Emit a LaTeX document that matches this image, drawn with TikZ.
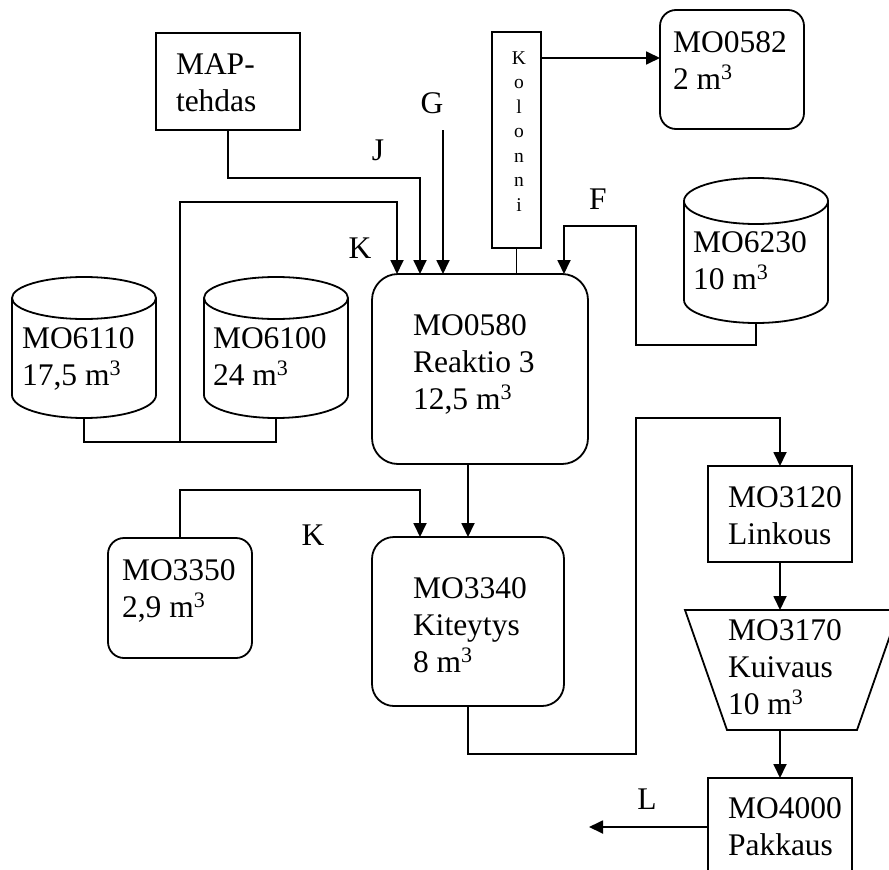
\documentclass[tikz,border=0pt]{standalone}
\usepackage{fontspec}
\setmainfont{Liberation Serif}
\usetikzlibrary{arrows.meta}
\newcommand\txtlines[1]{\vtop{\baselineskip=37pt\halign{##\hfil\cr#1\crcr}}}
\newcommand\vstack[1]{\vtop{\baselineskip=24.5pt\halign{\hfil##\hfil\cr#1\crcr}}}
% cylinder outline: left, right, top, bottom, top y-radius, bottom y-radius
\newcommand\drawcyl[6]{%
  \pgfmathsetmacro\cylcx{(#1+#2)/2}%
  \pgfmathsetmacro\cylrx{(#2-#1)/2}%
  \pgfmathsetmacro\cylyt{#3+#5}%
  \pgfmathsetmacro\cylyb{#4-#6}%
  \draw[lw] (\cylcx,\cylyt) ellipse [x radius=\cylrx, y radius=#5];
  \draw[lw] (#1,\cylyt) -- (#1,\cylyb)
    .. controls (#1,{\cylyb+0.5523*#6}) and ({\cylcx-0.5523*\cylrx},#4) .. (\cylcx,#4)
    .. controls ({\cylcx+0.5523*\cylrx},#4) and (#2,{\cylyb+0.5523*#6}) .. (#2,\cylyb)
    -- (#2,\cylyt);
}
\begin{document}
\begin{tikzpicture}[x=1pt,y=-1pt,
  every node/.style={inner sep=0pt, outer sep=0pt},
  lw/.style={line width=1.8pt},
  arr/.style={-{Triangle[length=14pt,width=13pt]}},
  box/.style={draw, lw},
  rbox/.style={draw, lw},
  cylarea/.style={minimum width=144pt, minimum height=141pt},
  txt/.style={anchor=base west, font=\fontsize{31.5}{37}\selectfont},
  lbl/.style={font=\fontsize{31.5}{37}\selectfont}]
\useasboundingbox (0,0) rectangle (889,870);
\clip (0,0) rectangle (889,870);
% cylinders (tanks)
\node[cylarea] (c6110) at (84,347.5) {};
\drawcyl{12}{156}{277}{418}{21}{23}
\node[cylarea] (c6100) at (276,347.5) {};
\drawcyl{204}{348}{277}{418}{21}{23}
\node[cylarea, minimum height=145pt] (c6230) at (756,250.5) {};
\drawcyl{684}{828}{178}{323}{23}{23}
% boxes
\node[box, minimum width=144pt, minimum height=97pt] (map) at (228,81.5) {};
\node[box, minimum width=49pt, minimum height=216pt] (kol) at (516.5,140) {};
\node[rbox, rounded corners=16pt, minimum width=144pt, minimum height=119pt] (m0582) at (732,69.5) {};
\node[rbox, rounded corners=26pt, minimum width=216pt, minimum height=190pt] (r0580) at (480,369) {};
\node[rbox, rounded corners=22pt, minimum width=192pt, minimum height=169pt] (r3340) at (468,621.5) {};
\node[rbox, rounded corners=16pt, minimum width=144pt, minimum height=120pt] (m3350) at (180,598) {};
\node[box, minimum width=144pt, minimum height=96pt] (m3120) at (780,514) {};
\node[minimum width=214pt, minimum height=120pt] (k3170) at (792,670) {};
\draw[lw] (k3170.north west) -- (k3170.north east) -- ([xshift=-42pt]k3170.south east) -- ([xshift=42pt]k3170.south west) -- cycle;
\node[box, minimum width=144pt, minimum height=120pt] (m4000) at (780,838) {};
% connectors
\coordinate (jn) at (180,442);
\draw[lw] (c6110.south) |- (jn) -| (c6100.south);
\draw[lw,arr] (jn) -- (180,202) -| ([xshift=-83pt]r0580.north);
\draw[lw,arr] (map.south) -- (228,178) -| ([xshift=-60pt]r0580.north);
\coordinate (gtop) at (443,130);
\draw[lw,arr] (gtop) -- (gtop |- r0580.north);
\draw[lw] (kol.south) -- (kol.south |- r0580.north);
\coordinate (ka) at ([yshift=-26pt]kol.north east);
\draw[lw,arr] (ka) -- (ka -| m0582.west);
\draw[lw,arr] (c6230.south) -- (756,345) -- (636,345) -- (636,226) -| ([xshift=84pt]r0580.north);
\draw[lw,arr] (r3340.north |- r0580.south) -- (r3340.north);
\draw[lw,arr] (m3350.north) -- (180,490) -| ([xshift=-48pt]r3340.north);
\draw[lw,arr] (r3340.south) -- (468,754) -- (636,754) -- (636,418) -| (m3120.north);
\draw[lw,arr] (m3120.south) -- (m3120.south |- k3170.north);
\draw[lw,arr] (m3120.south |- k3170.south) -- (m4000.north);
\coordinate (la) at ([yshift=-49pt]m4000.north west);
\coordinate (lend) at (589,827);
\draw[lw,arr] (la) -- (lend);
% texts
\node[txt] (tmap) at (176,74) {\txtlines{MAP-\cr tehdas}};
\node[txt] (t0582) at (673,52) {\txtlines{MO0582\cr 2 m\textsuperscript{3}}};
\node[txt] (t6230) at (693,252) {\txtlines{MO6230\cr 10 m\textsuperscript{3}}};
\node[txt] (t6110) at (22,348) {\txtlines{MO6110\cr 17,5 m\textsuperscript{3}}};
\node[txt] (t6100) at (213,348) {\txtlines{MO6100\cr 24 m\textsuperscript{3}}};
\node[txt] (t0580) at (413,335) {\txtlines{MO0580\cr Reaktio 3\cr 12,5 m\textsuperscript{3}}};
\node[txt] (t3340) at (413,598) {\txtlines{MO3340\cr Kiteytys\cr 8 m\textsuperscript{3}}};
\node[txt] (t3350) at (122,580) {\txtlines{MO3350\cr 2,9 m\textsuperscript{3}}};
\node[txt] (t3120) at (728,507) {\txtlines{MO3120\cr Linkous}};
\node[txt] (t3170) at (728,640) {\txtlines{MO3170\cr Kuivaus\cr 10 m\textsuperscript{3}}};
\node[txt] (t4000) at (728,818) {\txtlines{MO4000\cr Pakkaus}};
\node[anchor=base, font=\fontsize{19.5}{24.5}\selectfont] (tkol) at (519,64) {\vstack{K\cr o\cr l\cr o\cr n\cr n\cr i}};
\node[lbl] (lJ) at (378,150) {J};
\node[lbl] (lG) at (432,103) {G};
\node[lbl] (lK1) at (360,248) {K};
\node[lbl] (lF) at (598,199) {F};
\node[lbl] (lK2) at (313,535) {K};
\node[lbl] (lL) at (647,799) {L};
\end{tikzpicture}
\end{document}
